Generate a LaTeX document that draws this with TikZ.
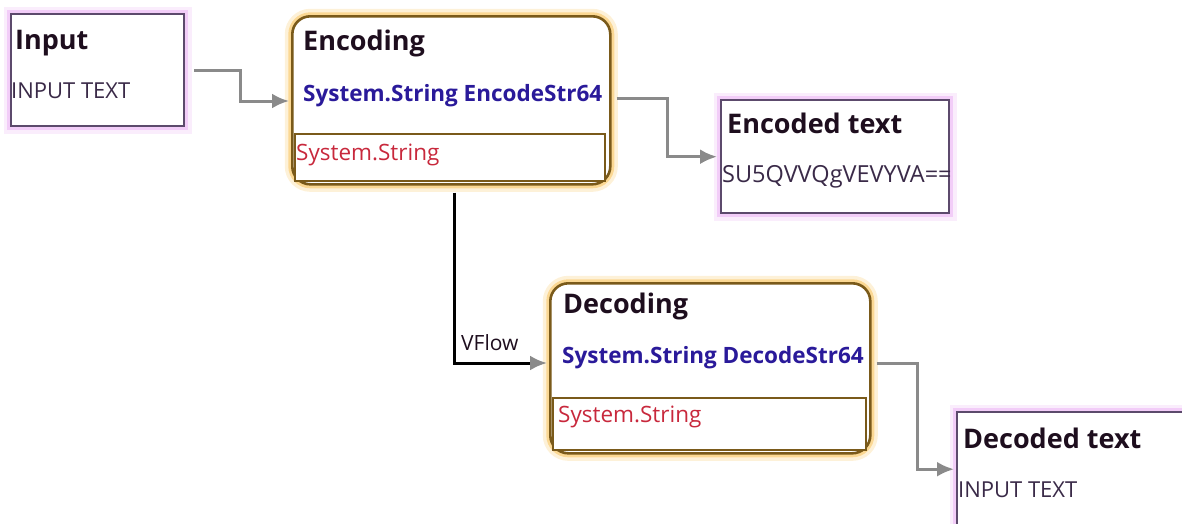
\documentclass[tikz,border=0pt]{standalone}
\usepackage{fontspec}
\setsansfont{Open Sans}
\usetikzlibrary{arrows.meta}

\definecolor{dataBorder}{HTML}{5C4A6C}
\definecolor{dataGlow}{HTML}{EDB8F5}
\definecolor{opBorder}{HTML}{7A5A1A}
\definecolor{opGlow}{HTML}{F9C765}
\definecolor{titleColor}{HTML}{1E0E1E}
\definecolor{sigColor}{HTML}{2A1A9A}
\definecolor{portColor}{HTML}{C8283C}
\definecolor{valueColor}{HTML}{3A2A48}
\definecolor{flowColor}{HTML}{8A8A8A}

\begin{document}
\begin{tikzpicture}[x = 1pt, y = -1pt, font=\sffamily]
	\tikzstyle{dataStyle}=[draw = dataBorder, line width = 2.4pt, fill = white, anchor = north west, inner sep = 0pt,
		preaction = {draw = dataGlow, line width = 15pt, opacity = 0.25},
		preaction = {draw = dataGlow, line width = 8pt, opacity = 0.6}]
	\tikzstyle{opStyle}=[draw = opBorder, line width = 2.6pt, fill = white, rounded corners = 18pt, anchor = north west, inner sep = 0pt,
		preaction = {draw = opGlow, line width = 15pt, opacity = 0.25},
		preaction = {draw = opGlow, line width = 8pt, opacity = 0.6}]
	\tikzstyle{portStyle}=[draw = opBorder, line width = 1.6pt, fill = white, anchor = north west, inner sep = 0pt]
	\tikzstyle{titleStyle}=[anchor = base west, inner sep = 0pt, text = titleColor, font = \sffamily\bfseries\fontsize{27}{30}\selectfont]
	\tikzstyle{sigStyle}=[anchor = base west, inner sep = 0pt, text = sigColor, font = \sffamily\bfseries\fontsize{22.5}{26}\selectfont]
	\tikzstyle{portText}=[anchor = base west, inner sep = 0pt, text = portColor, font = \sffamily\fontsize{22.5}{26}\selectfont]
	\tikzstyle{valueStyle}=[anchor = base west, inner sep = 0pt, text = valueColor, font = \sffamily\fontsize{22}{26}\selectfont]
	\tikzstyle{flowStyle}=[draw = flowColor, line width = 3pt, -{Latex[length = 17pt, width = 15pt]}]
	\tikzstyle{vflowStyle}=[draw = black, line width = 3pt, -{Latex[length = 17pt, width = 15pt, color = flowColor]}]
	\useasboundingbox (0,0) rectangle (1182,523);
	% data boxes
	\node[dataStyle, minimum width = 173pt, minimum height = 112pt] (input) at (10,13) {};
	\node[titleStyle] (inputTitle) at (15,49) {Input};
	\node[valueStyle] (inputValue) at (11,98) {INPUT TEXT};
	\node[dataStyle, minimum width = 228pt, minimum height = 113pt] (encoded) at (720,99) {};
	\node[titleStyle] (encodedTitle) at (727,133) {Encoded text};
	\begin{scope}
		\clip (encoded.north west) rectangle (encoded.south east);
		\node[valueStyle, font = \sffamily\fontsize{23.5}{26}\selectfont] (encodedValue) at (722,182) {SU5QVVQgVEVYVA==};
	\end{scope}
	\node[dataStyle, minimum width = 240pt, minimum height = 114pt] (decoded) at (956,411) {};
	\node[titleStyle] (decodedTitle) at (963,448) {Decoded text};
	\node[valueStyle] (decodedValue) at (958,497) {INPUT TEXT};
	% operations
	\node[opStyle, minimum width = 318pt, minimum height = 168pt] (enc) at (291,15) {};
	\node[portStyle, minimum width = 310pt, minimum height = 47pt] (encPort) at (294,133) {};
	\node[titleStyle] (encTitle) at (303,50) {Encoding};
	\node[sigStyle] (encSig) at (303,101) {System.String EncodeStr64};
	\node[portText] (encPortText) at (296,160) {System.String};
	\node[opStyle, minimum width = 320pt, minimum height = 170pt] (dec) at (549,282) {};
	\node[portStyle, minimum width = 313pt, minimum height = 52pt] (decPort) at (552,397) {};
	\node[titleStyle] (decTitle) at (563,313) {Decoding};
	\node[sigStyle] (decSig) at (562,363) {System.String DecodeStr64};
	\node[portText] (decPortText) at (558,422) {System.String};
	% connectors
	\draw[flowStyle] ([xshift = 9pt]input.east) -- ++(46,0) |- ([xshift = -2pt]enc.west |- encSig.base);
	\draw[flowStyle] ([xshift = 5pt, yshift = 3pt]enc.east |- encSig.base) -- ++(51,0) |- ([xshift = -3pt]encoded.west);
	\draw[flowStyle] ([xshift = 5pt]dec.east |- decSig.base) -- ++(41,0) |- ([xshift = -2pt]decoded.west);
	\draw[vflowStyle] ([xshift = 3pt, yshift = -7pt]enc.south) |- ([xshift = -2pt]dec.west |- decSig.base);
	\node[anchor = base west, inner sep = 0pt, text = titleColor, font = \sffamily\fontsize{21}{24}\selectfont] (vflow) at (461,350) {VFlow};
\end{tikzpicture}
\end{document}
